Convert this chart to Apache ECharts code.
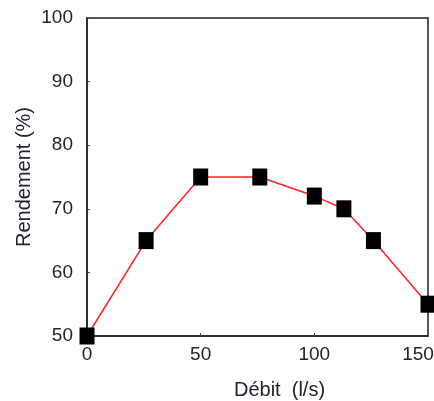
<!DOCTYPE html>
<html>
<head>
<meta charset="utf-8">
<script src="https://cdn.jsdelivr.net/npm/echarts@6/dist/echarts.min.js"></script>
<style>
html,body{margin:0;padding:0;background:#fff;}
#chart{width:434px;height:401px;}
</style>
</head>
<body>
<div id="chart"></div>
<script>
const debit = [0, 26, 50, 76, 100, 113, 126, 150];
const rendement = [50, 65, 75, 75, 72, 70, 65, 55];
const xTicks = [0, 50, 100, 150];
const yTicks = [50, 60, 70, 80, 90, 100];
const xTitle = 'Débit  (l/s)';
const yTitle = 'Rendement (%)';

const FONT = 'Liberation Sans';
const TXT = '#222230';
const xMax = xTicks[xTicks.length - 1];
const chart = echarts.init(document.getElementById('chart'), null, {renderer: 'canvas'});
chart.setOption({
  animation: false,
  backgroundColor: '#fff',
  grid: {left: 87, right: 6, top: 18, bottom: 65, outerBoundsMode: 'none', containLabel: false,
         show: true, borderColor: '#222', borderWidth: 1.5, backgroundColor: 'transparent'},
  xAxis: {
    type: 'value', min: xTicks[0], max: xMax, interval: 50,
    name: xTitle, nameLocation: 'middle', nameGap: 44, nameMoveOverlap: false,
    nameTextStyle: {fontFamily: FONT, fontSize: 20, color: TXT, padding: [0, 0, 0, 44]},
    axisLine: {show: true, lineStyle: {color: '#222', width: 1.5}},
    axisTick: {show: true, inside: true, length: 3, lineStyle: {color: '#444'}},
    axisLabel: {
      fontFamily: FONT, fontSize: 19, color: TXT, margin: 9, alignMaxLabel: 'center',
      formatter: v => v === xMax ? '{m|' + v + '}' : String(v),
      rich: {m: {fontFamily: FONT, fontSize: 19, color: TXT, padding: [0, 20, 0, 0]}}
    },
    splitLine: {show: false}
  },
  yAxis: {
    type: 'value', min: yTicks[0], max: yTicks[yTicks.length - 1], interval: 10,
    name: yTitle, nameLocation: 'middle', nameGap: 53, nameMoveOverlap: false,
    nameTextStyle: {fontFamily: FONT, fontSize: 20, color: TXT},
    axisLine: {show: true, lineStyle: {color: '#222', width: 1.5}},
    axisTick: {show: true, inside: true, length: 3, lineStyle: {color: '#444'}},
    axisLabel: {fontFamily: FONT, fontSize: 19, color: TXT, margin: 14},
    splitLine: {show: false}
  },
  series: [{
    type: 'line',
    data: debit.map((d, i) => [d, rendement[i]]),
    symbol: 'rect', symbolSize: [15, 17],
    itemStyle: {color: '#000'},
    lineStyle: {color: '#ff2020', width: 1.5},
    clip: false
  }]
});
</script>
</body>
</html>
